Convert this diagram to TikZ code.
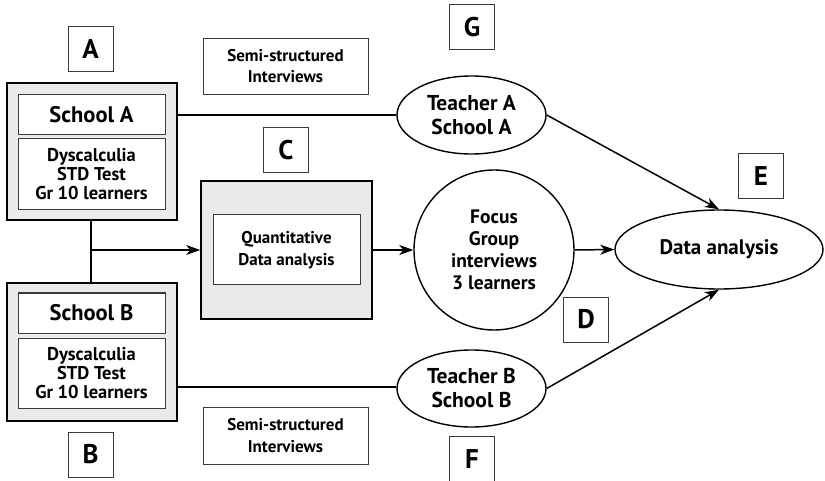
\documentclass[tikz,border=0pt]{standalone}
\usepackage{fontspec}
\setmainfont{PT Sans}
\usetikzlibrary{shapes.geometric,arrows.meta,calc}
\definecolor{panel}{HTML}{EAEAEA}
\definecolor{edge}{HTML}{3A3A3A}
\tikzset{
  every node/.style={font=\bfseries, align=center, inner sep=0pt},
  tag/.style={draw=edge, line width=0.9pt, minimum width=45pt, minimum height=45pt, font=\bfseries\fontsize{27}{30}\selectfont},
  outerbox/.style={draw=black, line width=1.6pt, fill=panel},
  innerbox/.style={draw=edge, line width=1pt, fill=white, minimum width=147pt},
  notebox/.style={draw=edge, line width=0.9pt, minimum width=165pt, minimum height=56pt, font=\bfseries\fontsize{17}{21.5}\selectfont},
  oval/.style={draw=black, line width=1.4pt, ellipse},
  link/.style={line width=1.5pt},
  flow/.style={line width=1.5pt, -{Stealth[length=14pt,width=10pt,inset=4pt]}},
}
\begin{document}
\begin{tikzpicture}[x=1pt,y=-1pt]
\useasboundingbox (0,0) rectangle (825,481);

% School A column
\node[tag] (labA) at (90.5,48.5) {A};
\node[outerbox, minimum width=170pt, minimum height=137pt] (schA) at (92,151.5) {};
\node[innerbox, minimum height=40pt, font=\bfseries\fontsize{22.5}{25}\selectfont] (titA) at (91.5,115) {School A};
\node[innerbox, minimum height=71pt, font=\bfseries\fontsize{18.5}{19}\selectfont] (tstA) at (91.5,174.5) {Dyscalculia\\STD Test\\Gr 10 learners};

% School B column
\node[outerbox, minimum width=170pt, minimum height=138pt] (schB) at (92,352) {};
\node[innerbox, minimum height=40pt, font=\bfseries\fontsize{22.5}{25}\selectfont] (titB) at (91.5,313) {School B};
\node[innerbox, minimum height=70pt, font=\bfseries\fontsize{18.5}{19}\selectfont] (tstB) at (91.5,373) {Dyscalculia\\STD Test\\Gr 10 learners};
\node[tag] (labB) at (90.5,454.5) {B};

% Interview notes
\node[notebox] (semiT) at (285.5,66) {Semi-structured\\Interviews};
\node[notebox, minimum height=57pt] (semiB) at (285.5,435.5) {Semi-structured\\Interviews};

% Quantitative analysis
\node[tag] (labC) at (286,150) {C};
\node[outerbox, minimum width=171pt, minimum height=138pt] (quant) at (286.5,250) {};
\node[innerbox, minimum height=70pt, font=\bfseries\fontsize{17}{21.5}\selectfont] (quantIn) at (286.5,250) {Quantitative\\Data analysis};

% Interviews and focus group
\node[tag] (labG) at (472,27) {G};
\node[oval, minimum width=149pt, minimum height=78pt, font=\bfseries\fontsize{21.5}{24}\selectfont] (tA) at (471.5,115) {Teacher A\\School A};
\node[draw=black, line width=1.4pt, circle, minimum size=160pt, font=\bfseries\fontsize{19.5}{22}\selectfont] (focus) at (494,250) {Focus\\Group\\interviews\\3 learners};
\node[tag] (labD) at (586,319.5) {D};
\node[oval, minimum width=149pt, minimum height=77pt, font=\bfseries\fontsize{21.5}{24}\selectfont] (tB) at (471.5,388.5) {Teacher B\\School B};
\node[tag] (labF) at (472,459) {F};

% Final analysis
\node[tag] (labE) at (761,176) {E};
\node[oval, minimum width=208pt, minimum height=79pt, font=\bfseries\fontsize{21}{24}\selectfont] (data) at (719,249.5) {Data analysis};

% Connectors
\coordinate (split) at (91,250);
\draw[link] (schA.south -| split) -- (schB.north -| split);
\draw[flow] (split) -- (split -| quant.west);
\draw[link] (schA.east |- tA.west) -- (tA.west);
\draw[link] ([yshift=1.5pt]schB.east |- tB.west) -- ([yshift=1.5pt]tB.west);
\draw[flow] (quant.east) -- (focus.west);
\draw[flow] (focus.east) -- (data.west);
\draw[flow] (tA.east) -- (data.north);
\draw[flow] (tB.east) -- (data.south);
\end{tikzpicture}
\end{document}
